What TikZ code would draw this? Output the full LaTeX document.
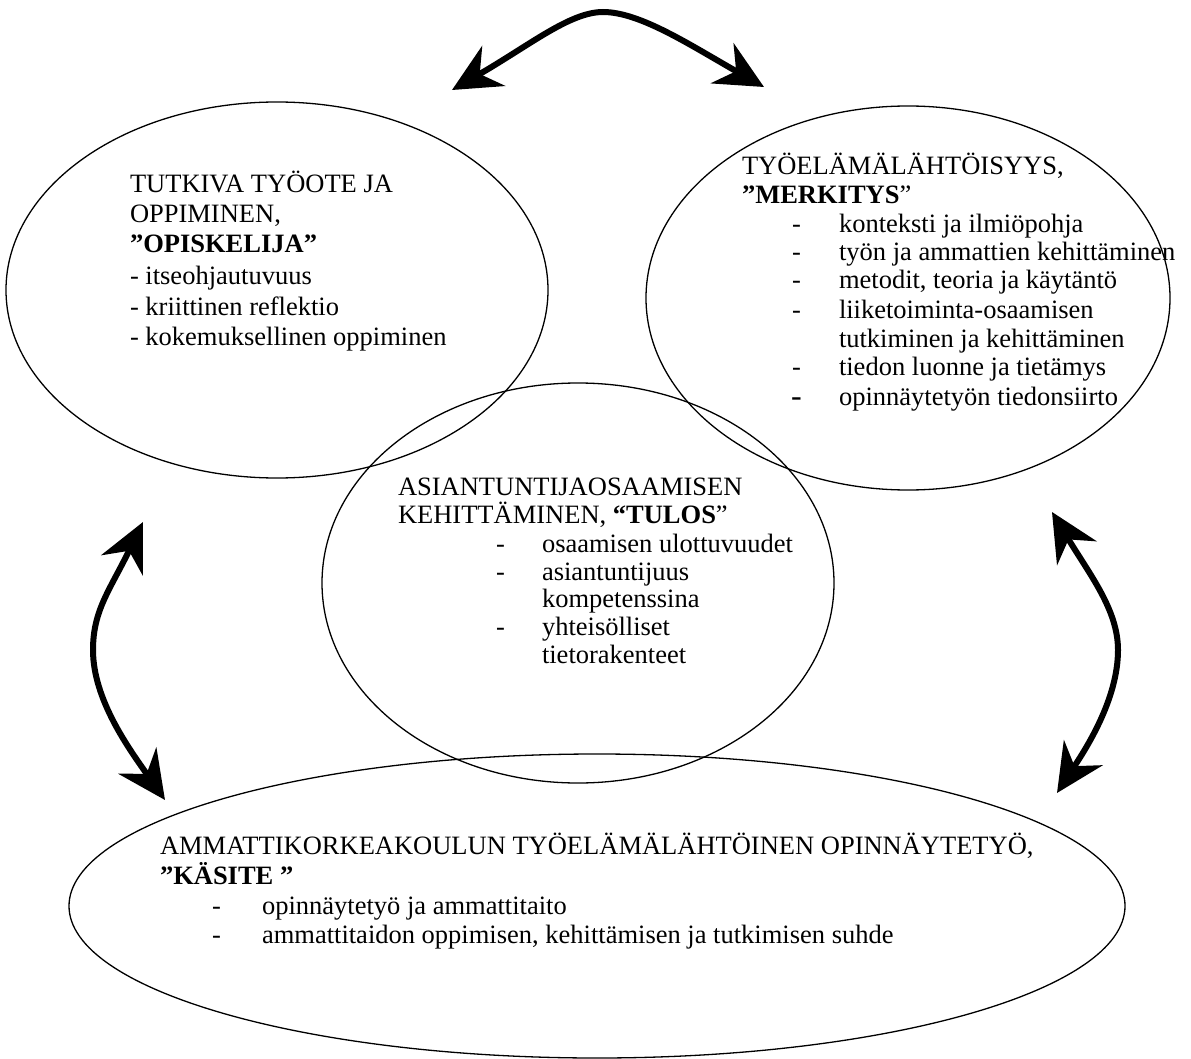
\documentclass[tikz,border=0pt]{standalone}
\usepackage{fontspec}
\setmainfont{Liberation Serif}
\usetikzlibrary{arrows.meta,shapes.geometric}
\begin{document}
\begin{tikzpicture}[x=1pt,y=-1pt,
  bubble/.style={draw, ellipse, line width=1.3pt, inner sep=0pt, outer sep=0pt},
  txt/.style={anchor=base west, inner sep=0pt, outer sep=0pt, font=\fontsize{26.5}{30}\selectfont},
  link/.style={line width=6pt, {Stealth[length=48pt,width=46pt,inset=16pt]}-{Stealth[length=48pt,width=46pt,inset=16pt]}}]

% page
\fill[white] (0,0) rectangle (1191,1059);
\useasboundingbox (0,0) rectangle (1191,1059);

% the four areas
\node[bubble, minimum width=542pt, minimum height=376pt] (learn) at (277,290) {};
\node[bubble, minimum width=524pt, minimum height=384pt] (worklife) at (908,298) {};
\node[bubble, minimum width=512pt, minimum height=400pt] (expert) at (578,583) {};
\node[bubble, minimum width=1056pt, minimum height=304pt] (thesis) at (597,906) {};

% two-way links between the areas
\coordinate (topL) at (452,90);
\coordinate (topR) at (764,87);
\coordinate (topM) at (603,12);
\draw[link] (topL) .. controls (530,45) and (570,12) .. (topM)
            .. controls (640,12) and (690,45) .. (topR);

\coordinate (leftA) at (143,522);
\coordinate (leftM) at (93,650);
\coordinate (leftB) at (165,800);
\draw[link] (leftA) .. controls (110,590) and (93,610) .. (leftM)
            .. controls (93,700) and (130,750) .. (leftB);

\coordinate (rightA) at (1052,512);
\coordinate (rightM) at (1118,650);
\coordinate (rightB) at (1057,793);
\draw[link] (rightA) .. controls (1090,575) and (1118,610) .. (rightM)
            .. controls (1118,700) and (1085,750) .. (rightB);

% learning area
\node[txt] (l1) at (130,193) {TUTKIVA TYÖOTE JA};
\node[txt] (l2) at (130,223) {OPPIMINEN,};
\node[txt] (l3) at (130,253) {\textbf{”OPISKELIJA”}};
\node[txt] (l4) at (130,285) {- itseohjautuvuus};
\node[txt] (l5) at (130,316) {- kriittinen reflektio};
\node[txt] (l6) at (130,345) {- kokemuksellinen oppiminen};

% working life area
\node[txt] (w1) at (742,175) {TYÖELÄMÄLÄHTÖISYYS,};
\node[txt] (w2) at (742,204) {\textbf{”MERKITYS}”};
\node[txt] (wd1) at (792,233) {-};
\node[txt] (w3) at (839,233) {konteksti ja ilmiöpohja};
\node[txt] (wd2) at (792,261) {-};
\node[txt] (w4) at (839,261) {työn ja ammattien kehittäminen};
\node[txt] (wd3) at (792,289) {-};
\node[txt] (w5) at (839,289) {metodit, teoria ja käytäntö};
\node[txt] (wd4) at (792,318) {-};
\node[txt] (w6) at (839,318) {liiketoiminta-osaamisen};
\node[txt] (w7) at (839,347) {tutkiminen ja kehittäminen};
\node[txt] (wd5) at (792,375) {-};
\node[txt] (w8) at (839,375) {tiedon luonne ja tietämys};
\node[txt, font=\fontsize{32}{32}\selectfont] (wd6) at (791,406) {-};
\node[txt] (w9) at (839,405) {opinnäytetyön tiedonsiirto};

% expertise area
\node[txt] (e1) at (398,495) {ASIANTUNTIJAOSAAMISEN};
\node[txt] (e2) at (398,523) {KEHITTÄMINEN, \textbf{“TULOS}”};
\node[txt] (ed1) at (496,552) {-};
\node[txt] (e3) at (542,552) {osaamisen ulottuvuudet};
\node[txt] (ed2) at (496,580) {-};
\node[txt] (e4) at (542,580) {asiantuntijuus};
\node[txt] (e5) at (542,607) {kompetenssina};
\node[txt] (ed3) at (496,635) {-};
\node[txt] (e6) at (542,635) {yhteisölliset};
\node[txt] (e7) at (542,663) {tietorakenteet};

% thesis area
\node[txt] (t1) at (160,854) {AMMATTIKORKEAKOULUN TYÖELÄMÄLÄHTÖINEN OPINNÄYTETYÖ,};
\node[txt] (t2) at (160,884) {\textbf{”KÄSITE ”}};
\node[txt] (td1) at (212,914) {-};
\node[txt] (t3) at (262,914) {opinnäytetyö ja ammattitaito};
\node[txt] (td2) at (212,943) {-};
\node[txt] (t4) at (262,943) {ammattitaidon oppimisen, kehittämisen ja tutkimisen suhde};
\end{tikzpicture}
\end{document}
